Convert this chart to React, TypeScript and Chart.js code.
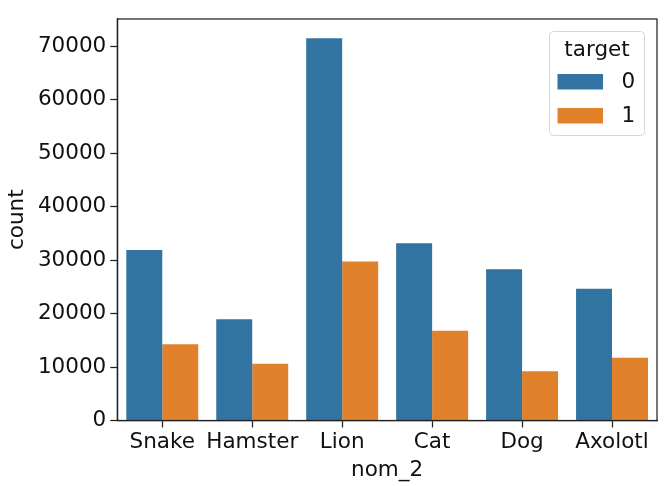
import React, { useEffect, useRef } from 'react';
import { Chart, ChartConfiguration, Plugin, registerables } from 'chart.js';

Chart.register(...registerables);

const categories = ['Snake', 'Hamster', 'Lion', 'Cat', 'Dog', 'Axolotl'];
const target0 = [31900, 18950, 71470, 33160, 28300, 24620];
const target1 = [14280, 10600, 29720, 16770, 9230, 11720];
const yTicks = [0, 10000, 20000, 30000, 40000, 50000, 60000, 70000];
const seriesLabels = ['0', '1'];

const BLUE = '#3274a1';
const ORANGE = '#e1812c';
const INK = '#111';
const FONT = 'DejaVu Sans';
const SIZE = 21.5;

// full box around the plot like matplotlib spines
const framePlugin: Plugin = {
  id: 'frame',
  afterDatasetsDraw(chart) {
    const { ctx, chartArea } = chart;
    ctx.save();
    ctx.strokeStyle = '#222';
    ctx.lineWidth = 1.25;
    ctx.strokeRect(chartArea.left, chartArea.top, chartArea.right - chartArea.left, chartArea.bottom - chartArea.top);
    ctx.restore();
  },
};

// seaborn-style legend with a title, in the upper right of the axes
const legendPlugin: Plugin = {
  id: 'seabornLegend',
  afterDraw(chart) {
    const { ctx, chartArea } = chart;
    const w = 95;
    const h = 104;
    const x = chartArea.right - 12.5 - w;
    const y = chartArea.top + 12.5;
    ctx.save();
    ctx.beginPath();
    ctx.roundRect(x, y, w, h, 4);
    ctx.fillStyle = 'rgba(255,255,255,0.8)';
    ctx.fill();
    ctx.strokeStyle = '#d6d6d6';
    ctx.lineWidth = 1;
    ctx.stroke();

    ctx.fillStyle = INK;
    ctx.font = `${SIZE}px "${FONT}"`;
    ctx.textAlign = 'center';
    ctx.textBaseline = 'middle';
    ctx.fillText('target', x + w / 2, y + 19);

    chart.data.datasets.forEach((ds, i) => {
      const rowY = y + 50 + i * 34;
      ctx.fillStyle = ds.backgroundColor as string;
      ctx.fillRect(x + 8, rowY - 7.5, 45.5, 15.5);
      ctx.fillStyle = INK;
      ctx.textAlign = 'left';
      ctx.fillText(String(ds.label), x + 72, rowY + 1);
    });
    ctx.restore();
  },
};

const App: React.FC = () => {
  const canvasRef = useRef<HTMLCanvasElement | null>(null);

  useEffect(() => {
    if (!canvasRef.current) return;
    document.body.style.margin = '0';

    const config: ChartConfiguration = {
      type: 'bar',
      data: {
        labels: categories,
        datasets: [
          {
            label: seriesLabels[0],
            data: target0,
            backgroundColor: BLUE,
            categoryPercentage: 0.8,
            barPercentage: 1.0,
          },
          {
            label: seriesLabels[1],
            data: target1,
            backgroundColor: ORANGE,
            categoryPercentage: 0.8,
            barPercentage: 1.0,
          },
        ],
      },
      options: {
        responsive: true,
        maintainAspectRatio: false,
        animation: false,
        layout: { padding: { top: 19, right: 14, left: 0, bottom: 0 } },
        plugins: {
          legend: { display: false },
          tooltip: { enabled: false },
        },
        scales: {
          x: {
            grid: {
              display: true,
              drawOnChartArea: false,
              drawTicks: true,
              tickLength: 7,
              tickWidth: 1.25,
              tickColor: '#222',
              offset: false,
            },
            border: { display: true, color: '#222', width: 1.25 },
            ticks: {
              color: INK,
              font: { family: FONT, size: SIZE },
              padding: 2,
              autoSkip: false,
              maxRotation: 0,
            },
            title: {
              display: true,
              text: 'nom_2',
              color: INK,
              font: { family: FONT, size: SIZE },
              padding: { top: 0, bottom: 3 },
            },
            afterFit: (scale) => {
              scale.height = 65.5;
            },
          },
          y: {
            min: 0,
            max: 75080,
            grid: {
              display: true,
              drawOnChartArea: false,
              drawTicks: true,
              tickLength: 7,
              tickWidth: 1.25,
              tickColor: '#222',
            },
            border: { display: true, color: '#222', width: 1.25 },
            ticks: {
              color: INK,
              font: { family: FONT, size: SIZE },
              padding: 4,
              callback: (value) => String(value),
            },
            afterBuildTicks: (scale) => {
              scale.ticks = yTicks.map((v) => ({ value: v }));
            },
            title: {
              display: true,
              text: 'count',
              color: INK,
              font: { family: FONT, size: SIZE },
              padding: { top: 5, bottom: 0 },
            },
            afterFit: (scale) => {
              scale.width = 117.3;
            },
          },
        },
      },
      plugins: [framePlugin, legendPlugin],
    };

    const chart = new Chart(canvasRef.current, config);
    return () => {
      chart.destroy();
    };
  }, []);

  return (
    <div style={{ width: 671, height: 486, position: 'relative', background: '#fff' }}>
      <canvas ref={canvasRef} />
    </div>
  );
};

export default App;
